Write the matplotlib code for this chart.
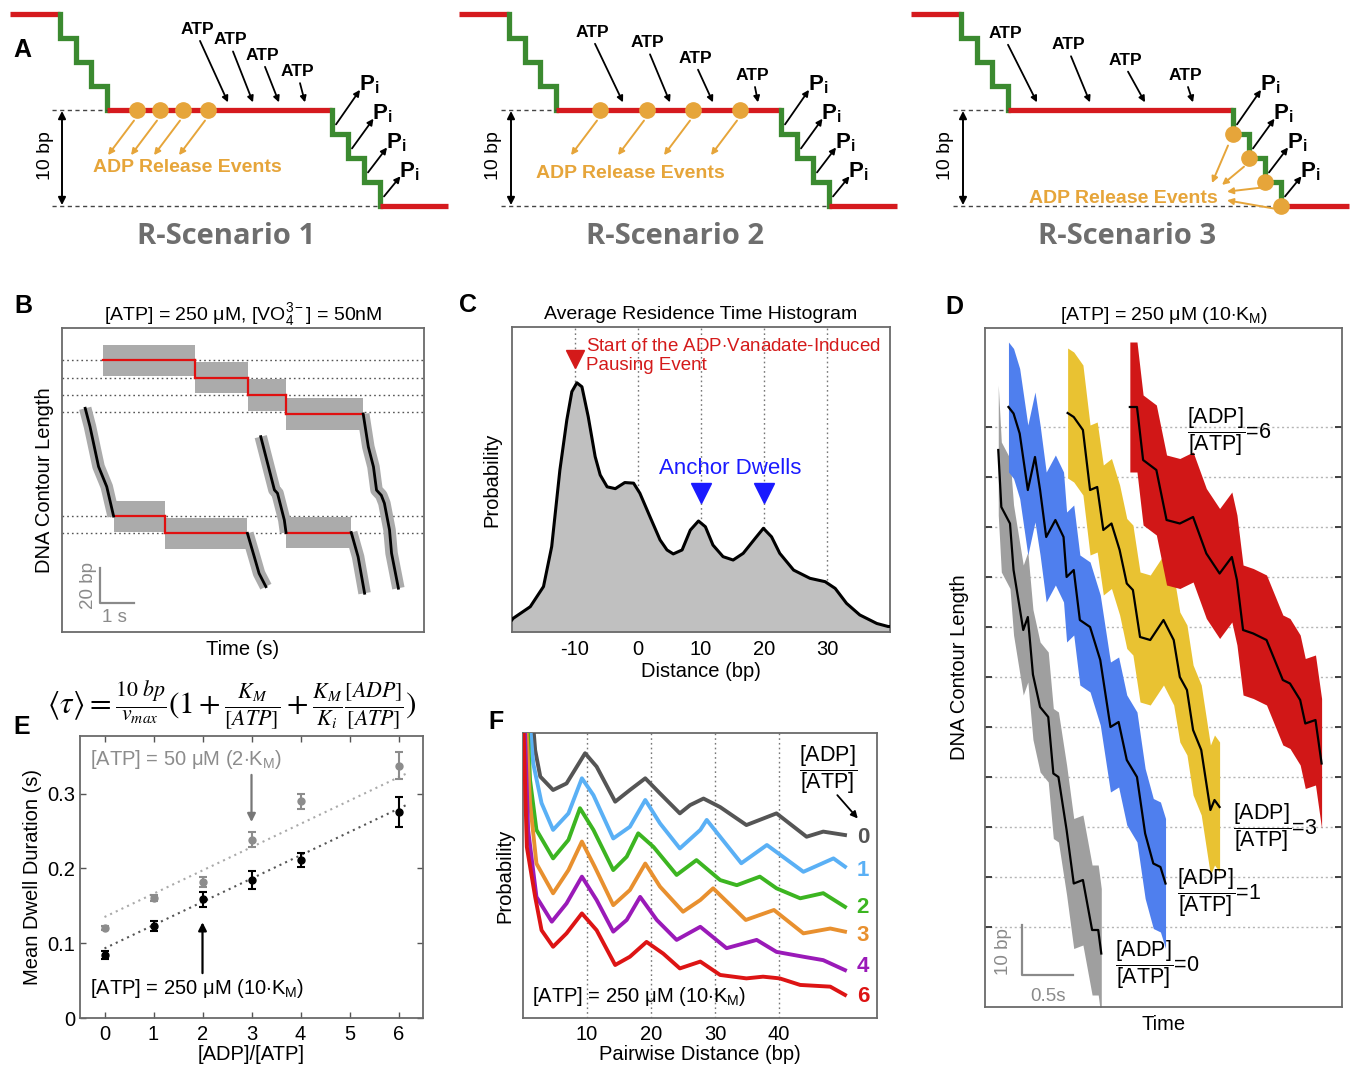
import matplotlib
matplotlib.use('Agg')
import matplotlib.pyplot as plt
import numpy as np

plt.rcParams['font.family'] = ['Liberation Sans', 'DejaVu Sans']
plt.rcParams['mathtext.fontset'] = 'custom'
plt.rcParams['mathtext.rm'] = 'Liberation Sans'
plt.rcParams['mathtext.it'] = 'Liberation Sans:italic'
plt.rcParams['mathtext.bf'] = 'Liberation Sans:bold'

# ---------------------------------------------------------------- data
# Panel A (schematic parameters)
scen_names = ['R-Scenario 1', 'R-Scenario 2', 'R-Scenario 3']
burst_steps = 4
step_bp = 2.5
dwell_bp = 10
atp_head_x = [[228, 253, 279, 305], [174, 221, 264, 309], [136, 189, 244, 292]]
atp_label_x = [[197, 230, 262, 297], [143, 198, 246, 303], [104, 167, 224, 284]]
atp_label_bp = [[-8.4, -7.3, -5.7, -4.0], [-8.1, -7.0, -5.4, -3.6], [-8.0, -6.8, -5.2, -3.6]]
adp_release_x = [[137, 160, 183, 208], [151, 198, 244, 291], None]
s3_adp_head_x = [311, 321, 326, 326]
s3_adp_head_bp = [7.6, 7.8, 8.5, 9.4]

# Panel B
B_grid_bp = [157, 147, 137, 127, 67, 57]
B_pause_t0 = [1.2, 3.88, 5.44, 6.56, 1.51, 3.03, 6.56]
B_pause_t1 = [3.88, 5.44, 6.56, 8.82, 3.03, 5.43, 8.47]
B_pause_bp = [157, 147, 137, 126, 67, 57, 57.5]
B_burst1_t = [8.82, 8.97, 9.12, 9.21, 9.35, 9.44, 9.59, 9.65, 9.85]
B_burst1_bp = [126, 107, 95.5, 82, 79, 74.4, 59, 45.5, 25.3]
B_burst2_t = [0.68, 0.82, 1.07, 1.31, 1.51]
B_burst2_bp = [129.3, 118.7, 95.6, 84, 67]
B_burst3_t = [5.43, 5.63, 5.77, 5.97]
B_burst3_bp = [57, 43.5, 33.9, 26.2]
B_burst4_t = [5.82, 6.02, 6.22, 6.31, 6.51, 6.56]
B_burst4_bp = [112.9, 97.5, 82.1, 80.2, 64.7, 57.5]
B_burst5_t = [8.47, 8.67, 8.86]
B_burst5_bp = [57.5, 43.5, 22.4]

# Panel C
C_x = [-20, -19.8, -17.1, -15.0, -13.7, -12.4, -11.3, -10.5, -9.7, -8.9, -7.9, -6.8, -6.0, -4.9,
       -3.6, -2.1, -0.7, 0.3, 1.9, 3.5, 4.6, 5.6, 7.0, 8.3, 9.6, 10.7, 11.9, 13.5, 15.1, 16.7,
       18.6, 19.9, 21.2, 22.5, 24.7, 27.3, 29.7, 31.3, 33.1, 35.2, 37.9, 39.7, 40]
C_y = [0.04, 0.045, 0.083, 0.149, 0.28, 0.531, 0.695, 0.788, 0.817, 0.804, 0.706, 0.575, 0.515,
       0.476, 0.47, 0.49, 0.488, 0.455, 0.378, 0.302, 0.269, 0.256, 0.269, 0.334, 0.364, 0.345,
       0.285, 0.247, 0.236, 0.258, 0.307, 0.34, 0.312, 0.258, 0.203, 0.176, 0.165, 0.143, 0.094,
       0.056, 0.028, 0.018, 0.018]
C_ticks = [-10, 0, 10, 20, 30]

# Panel D
D_ratio_labels = ['0', '1', '3', '6']
D0_t = [0.13, 0.16, 0.245, 0.28, 0.375, 0.42, 0.47, 0.54, 0.62, 0.67, 0.72, 0.80, 0.87, 0.96, 1.05, 1.11, 1.14]
D0_bp = [105.4, 94, 90.7, 81.4, 69.4, 72, 60.5, 54, 52, 40.7, 40, 29.4, 18.7, 19.4, 9.4, 9.4, 4.7]
D1_t = [0.23, 0.28, 0.34, 0.42, 0.49, 0.54, 0.60, 0.69, 0.77, 0.80, 0.87, 0.93, 1.03, 1.13, 1.23,
        1.31, 1.39, 1.49, 1.57, 1.65, 1.72, 1.77]
D1_bp = [114, 112.7, 108.7, 97.4, 104, 97.4, 88, 91.4, 88, 80, 81.4, 71.4, 70, 63.4, 50, 51, 43.4,
         40, 28.7, 22.7, 22, 18.7]
D3_t = [0.81, 0.87, 0.96, 1.03, 1.10, 1.16, 1.24, 1.32, 1.39, 1.45, 1.52, 1.62, 1.75, 1.85, 1.91,
        1.98, 2.04, 2.12, 2.21, 2.25, 2.30]
D3_bp = [112.8, 112, 109.4, 97.4, 98, 89.4, 90.7, 85.4, 78.7, 77.4, 68, 67.4, 71.4, 67.4, 60, 57.4,
         49.4, 45.4, 33.4, 35.4, 34]
D6_t = [1.42, 1.49, 1.55, 1.68, 1.78, 1.91, 2.04, 2.17, 2.30, 2.42, 2.47, 2.53, 2.63, 2.76, 2.92,
        2.99, 3.09, 3.14, 3.24, 3.30]
D6_bp = [114, 114, 103.4, 101.4, 91.4, 90.7, 92, 84.7, 80.7, 84, 79.4, 69.4, 68.7, 67.4, 59.4, 58.7,
         55.4, 50.7, 51.4, 42.7]
D_grid_bp = [10, 20, 30, 40, 50, 60, 70, 80, 90, 100, 110]

# Panel E
E_ratio = [0, 1, 2, 3, 4, 6]
E_tau_250 = [0.084, 0.123, 0.159, 0.184, 0.2115, 0.276]
E_err_250 = [0.005, 0.007, 0.010, 0.012, 0.009, 0.020]
E_tau_50 = [0.120, 0.160, 0.182, 0.238, 0.290, 0.337]
E_err_50 = [0.003, 0.004, 0.007, 0.010, 0.010, 0.018]
E_fit_x = [0, 6.2]
E_fit_250 = [0.093, 0.286]
E_fit_50 = [0.135, 0.328]

# Panel F
F_labels = ['0', '1', '2', '3', '4', '6']
F_colors = ['#555555', '#5ab0f5', '#3cb521', '#e8902f', '#9a1ab8', '#dd1414']
F_x0 = [1.4, 1.9, 2.7, 4.7, 6.8, 9.7, 11.5, 14.4, 16.7, 19.1, 21.4, 24.5, 26.1, 28.2, 30.8, 34.9,
        39.6, 44.3, 46.9, 50.3]
F_y0 = [1.08, 0.94, 0.847, 0.80, 0.823, 0.929, 0.882, 0.759, 0.80, 0.841, 0.788, 0.718, 0.747,
        0.77, 0.74, 0.677, 0.718, 0.636, 0.654, 0.642]
F_x1 = [0.9, 1.6, 2.9, 4.7, 7.1, 9.2, 11.0, 14.1, 16.7, 19.1, 21.4, 24.5, 27.7, 28.7, 34.1, 38.1,
        43.8, 48.5, 50.3]
F_y1 = [1.08, 0.893, 0.754, 0.66, 0.718, 0.841, 0.782, 0.630, 0.671, 0.765, 0.683, 0.595, 0.66,
        0.695, 0.543, 0.607, 0.513, 0.56, 0.531]
F_x2 = [0.6, 1.1, 2.1, 4.7, 7.1, 8.9, 11.0, 14.1, 16.2, 18.0, 20.4, 24.0, 27.1, 30.8, 33.4, 37.0,
        39.6, 43.3, 46.9, 50.3]
F_y2 = [1.08, 0.835, 0.66, 0.56, 0.625, 0.736, 0.66, 0.519, 0.566, 0.648, 0.60, 0.502, 0.554,
        0.484, 0.466, 0.496, 0.455, 0.42, 0.438, 0.39]
F_x3 = [0.4, 1.1, 2.1, 4.7, 7.1, 9.2, 11.2, 14.1, 16.7, 19.1, 21.4, 25.0, 27.7, 29.7, 34.8, 39.2,
        43.8, 48.0, 50.3]
F_y3 = [1.08, 0.754, 0.542, 0.4375, 0.519, 0.619, 0.531, 0.396, 0.449, 0.542, 0.461, 0.373, 0.414,
        0.455, 0.344, 0.379, 0.297, 0.314, 0.303]
F_x4 = [0.2, 0.8, 2.1, 4.5, 6.8, 9.2, 11.5, 14.1, 16.2, 18.3, 20.9, 24.0, 27.7, 31.8, 36.5, 39.6,
        43.8, 46.9, 50.3]
F_y4 = [1.08, 0.66, 0.425, 0.338, 0.402, 0.496, 0.414, 0.303, 0.344, 0.425, 0.344, 0.274, 0.32,
        0.245, 0.274, 0.232, 0.215, 0.203, 0.168]
F_x6 = [0, 0.6, 1.9, 2.9, 4.7, 6.8, 9.2, 11.5, 14.4, 16.7, 19.3, 21.9, 24.5, 27.7, 30.8, 34.9,
        37.5, 40.1, 43.3, 48.0, 50.3]
F_y6 = [1.08, 0.60, 0.425, 0.308, 0.25, 0.297, 0.367, 0.308, 0.186, 0.215, 0.267, 0.226, 0.174,
        0.198, 0.151, 0.139, 0.145, 0.139, 0.116, 0.11, 0.081]
F_ticks = [10, 20, 30, 40]

# ---------------------------------------------------------------- figure
W, H = 1355, 1072
fig = plt.figure(figsize=(W / 100, H / 100), dpi=100)


def px_axes(x0, y0, x1, y1):
    return fig.add_axes([x0 / W, 1 - y1 / H, (x1 - x0) / W, (y1 - y0) / H])


def fig_label(x, y, s, **kw):
    fig.text(x / W, 1 - y / H, s, **kw)


FRAME = '#6a6a6a'
RED = '#d51a1e'
GREEN = '#3b8a30'
ORANGE = '#e6a53a'

# ---------------------------------------------------------------- Panel A
top_x0, burst1_x0, tread1, dwell_end, tread2, final_x = 10, 60, 15.5, 332, 16, 448
scen_left = [0, 449, 901]
for si in range(3):
    ax = px_axes(scen_left[si], 0, scen_left[si] + 455, 255)
    ax.set_xlim(0, 455)
    ax.set_ylim(15.1, -11.46)
    ax.axis('off')
    xs, ys = [burst1_x0], [-dwell_bp]
    for k in range(burst_steps):
        xk = burst1_x0 + k * tread1
        lev = -dwell_bp + step_bp * (k + 1)
        xs.append(xk); ys.append(lev)
        if k < burst_steps - 1:
            xs.append(burst1_x0 + (k + 1) * tread1); ys.append(lev)
    dwell_x0 = xs[-1]
    xs2, ys2 = [dwell_end], [0]
    for k in range(burst_steps):
        xk = dwell_end + k * tread2
        lev = step_bp * (k + 1)
        xs2.append(xk); ys2.append(lev)
        if k < burst_steps - 1:
            xs2.append(dwell_end + (k + 1) * tread2); ys2.append(lev)
    burst2_end = xs2[-1]
    lw = 3.8
    ax.plot([top_x0, burst1_x0], [-dwell_bp, -dwell_bp], color=RED, lw=lw, solid_capstyle='butt')
    ax.plot(xs, ys, color=GREEN, lw=lw, solid_joinstyle='miter')
    ax.plot([dwell_x0, dwell_end], [0, 0], color=RED, lw=lw, solid_capstyle='butt')
    ax.plot(xs2, ys2, color=GREEN, lw=lw, solid_joinstyle='miter')
    ax.plot([burst2_end, final_x], [dwell_bp, dwell_bp], color=RED, lw=lw, solid_capstyle='butt')
    ax.plot([52, dwell_x0], [0, 0], color='#444444', lw=1, ls=(0, (3, 2.5)))
    ax.plot([52, burst2_end], [dwell_bp, dwell_bp], color='#444444', lw=1, ls=(0, (3, 2.5)))
    ax.annotate('', xy=(62, dwell_bp - 0.1), xytext=(62, 0.1),
                arrowprops=dict(arrowstyle='<|-|>', color='black', lw=1.4, mutation_scale=11,
                                shrinkA=0, shrinkB=0))
    ax.text(45, 4.7, '10 bp', rotation=90, ha='center', va='center', fontsize=14)
    for hx, lx, lb in zip(atp_head_x[si], atp_label_x[si], atp_label_bp[si]):
        ax.text(lx, lb, 'ATP', ha='center', va='center', fontsize=12.5, fontweight='bold')
        ax.annotate('', xy=(hx, -0.8), xytext=(lx + 3, lb + 1.2),
                    arrowprops=dict(arrowstyle='-|>', color='black', lw=1.3, mutation_scale=9,
                                    shrinkA=0, shrinkB=0))
    for k in range(burst_steps):
        dx = dwell_end + k * tread2
        tail = (dx + 4, step_bp * k + 1.5)
        head = (tail[0] + 24 - 2.5 * k, tail[1] - 3.6 + 0.5 * k)
        ax.annotate('', xy=head, xytext=tail,
                    arrowprops=dict(arrowstyle='-|>', color='black', lw=1.3, mutation_scale=9,
                                    shrinkA=0, shrinkB=0))
        ax.text(head[0] + 9, head[1] - 0.5, r'$\mathbf{P}_\mathbf{i}$', ha='center', va='center',
                fontsize=16)
    if adp_release_x[si] is not None:
        for ax_x in adp_release_x[si]:
            ax.plot(ax_x, 0, 'o', color=ORANGE, ms=11, zorder=5)
            ax.annotate('', xy=(ax_x - 29, 4.7), xytext=(ax_x - 3, 1.1),
                        arrowprops=dict(arrowstyle='-|>', color=ORANGE, lw=1.4, mutation_scale=9,
                                        shrinkA=0, shrinkB=0))
        tx, tb = (187, 6.0) if si == 0 else (181, 6.6)
        ax.text(tx, tb, 'ADP Release Events', color=ORANGE, fontsize=14, fontweight='bold',
                ha='center', va='center')
    else:
        for k in range(burst_steps):
            dxk = dwell_end + k * tread2
            lev = step_bp * (k + 1)
            ax.plot(dxk, lev, 'o', color=ORANGE, ms=11, zorder=5, clip_on=False)
            hx, hb = s3_adp_head_x[k], s3_adp_head_bp[k]
            ax.annotate('', xy=(hx, hb), xytext=(dxk - 5, lev + 1.2 - 0.3 * k),
                        arrowprops=dict(arrowstyle='-|>', color=ORANGE, lw=1.4, mutation_scale=9,
                                        shrinkA=0, shrinkB=0))
        ax.text(222, 9.2, 'ADP Release Events', color=ORANGE, fontsize=14, fontweight='bold',
                ha='center', va='center')
    ax.text(226, 13.2, scen_names[si], ha='center', va='center', fontsize=21, fontweight='bold',
            color='#6e6e6e', family=['Open Sans', 'DejaVu Sans'])
fig_label(22, 50, 'A', fontsize=18, fontweight='bold', ha='center', va='center')

# ---------------------------------------------------------------- Panel B
axB = px_axes(62, 328, 424, 632)
axB.set_xlim(0, 10.6)
axB.set_ylim(0, 175.7)
for g in B_grid_bp:
    axB.axhline(g, color='#555555', ls=(0, (1.2, 2.2)), lw=1, zorder=0)
noise = 9
for t0, t1, lev in zip(B_pause_t0, B_pause_t1, B_pause_bp):
    axB.fill_between([t0, t1], lev - noise, lev + noise, color='#ababab', lw=0, zorder=1)
bursts = [(B_burst1_t, B_burst1_bp), (B_burst2_t, B_burst2_bp), (B_burst3_t, B_burst3_bp),
          (B_burst4_t, B_burst4_bp), (B_burst5_t, B_burst5_bp)]
for bt, bb in bursts:
    axB.plot(bt, bb, color='#ababab', lw=9, zorder=1, solid_capstyle='butt')
for t0, t1, lev in zip(B_pause_t0, B_pause_t1, B_pause_bp):
    axB.plot([t0, t1], [lev, lev], color='#e01010', lw=1.6, zorder=3)
for i in range(3):
    axB.plot([B_pause_t1[i], B_pause_t1[i]], [B_pause_bp[i], B_pause_bp[i + 1]], color='#e01010',
             lw=1.6, zorder=3)
axB.plot([B_pause_t1[4], B_pause_t1[4]], [B_pause_bp[4], B_pause_bp[5]], color='#e01010', lw=1.6,
         zorder=3)
for bt, bb in bursts:
    axB.plot(bt, bb, color='black', lw=2, zorder=4)
axB.plot([1.12, 1.12, 2.12], [36.8, 16.8, 16.8], color='#8a8a8a', lw=1.6, zorder=5)
axB.text(0.78, 26.8, '20 bp', rotation=90, ha='center', va='center', fontsize=13.5, color='#8a8a8a')
axB.text(1.55, 8.5, '1 s', ha='center', va='center', fontsize=13.5, color='#8a8a8a')
axB.set_xticks([]); axB.set_yticks([])
for s in axB.spines.values():
    s.set_color(FRAME); s.set_linewidth(1.3)
axB.set_xlabel('Time (s)', fontsize=14.5, labelpad=6)
axB.set_ylabel('DNA Contour Length', fontsize=14.5, labelpad=6)
axB.set_title(r'[ATP] = 250 $\mathrm{\mu}$M, [VO$_4^{3-}$] = 50nM', fontsize=14, pad=6)
fig_label(23, 306, 'B', fontsize=18, fontweight='bold', ha='center', va='center')

# ---------------------------------------------------------------- Panel C
axC = px_axes(512, 327, 890, 632)
axC.set_xlim(-20, 40)
axC.set_ylim(0, 1)
for t in C_ticks:
    axC.axvline(t, color='#777777', ls=(0, (1.2, 2.2)), lw=1, zorder=0)
axC.fill_between(C_x, 0, C_y, color='#c0c0c0', lw=0, zorder=1)
axC.plot(C_x, C_y, color='black', lw=2.2, zorder=3, solid_joinstyle='round')
axC.set_xticks(C_ticks)
axC.set_xticklabels([str(t) for t in C_ticks])
axC.set_yticks([])
axC.tick_params(axis='x', length=0, labelsize=14.5, pad=6)
for s in axC.spines.values():
    s.set_color(FRAME); s.set_linewidth(1.3)
axC.set_xlabel('Distance (bp)', fontsize=14.5, labelpad=2)
axC.set_ylabel('Probability', fontsize=14.5, labelpad=8)
axC.set_title('Average Residence Time Histogram', fontsize=14, pad=6)
axC.plot([-10], [0.895], marker='v', color='#d41a1a', ms=13, zorder=5)
axC.text(-8.2, 0.905, 'Start of the ADP$\\cdot$Vanadate-Induced\nPausing Event', color='#d41a1a',
         fontsize=13.5, ha='left', va='center', linespacing=1.1)
axC.plot([10, 20], [0.456, 0.456], ls='none', marker='v', color='#1a1aff', ms=14, zorder=5)
axC.text(14.6, 0.535, 'Anchor Dwells', color='#1a1aff', fontsize=16, ha='center', va='center')
fig_label(468, 305, 'C', fontsize=18, fontweight='bold', ha='center', va='center')

# ---------------------------------------------------------------- Panel D
axD = px_axes(985, 328, 1342, 1007)
axD.set_xlim(0, 3.5)
axD.set_ylim(-6, 129.8)
for g in D_grid_bp:
    axD.axhline(g, color='#b5b5b5', ls=(0, (1.5, 2)), lw=1, zorder=0)
D_traces = [(D0_t, D0_bp, '#9f9f9f'), (D1_t, D1_bp, '#4f7fee'), (D3_t, D3_bp, '#e9c232'),
            (D6_t, D6_bp, '#d11717')]
band = 13
for tt, bb, col in D_traces:
    axD.fill_between(tt, np.array(bb) - band, np.array(bb) + band, color=col, lw=0, zorder=1)
for tt, bb, col in D_traces:
    axD.plot(tt, bb, color='black', lw=1.6, zorder=3)
axD.set_xticks([])
axD.set_yticks(D_grid_bp)
axD.set_yticklabels([])
axD.tick_params(axis='y', direction='in', length=5, width=1.3, color='#333333', left=True, right=True)
for s in axD.spines.values():
    s.set_color(FRAME); s.set_linewidth(1.3)
axD.plot([0.363, 0.363, 0.863], [10.4, 0.4, 0.4], color='#8a8a8a', lw=1.6, zorder=5)
axD.text(0.18, 5.0, '10 bp', rotation=90, ha='center', va='center', fontsize=13.5, color='#8a8a8a')
axD.text(0.62, -3.9, '0.5s', ha='center', va='center', fontsize=13.5, color='#8a8a8a')
frac = r'$\dfrac{[\mathrm{ADP}]}{[\mathrm{ATP}]}$'
D_lab_t = [1.27, 1.88, 2.43, 1.98]
D_lab_bp = [2.4, 16.8, 29.8, 109]
for lab, lt, lb in zip(D_ratio_labels, D_lab_t, D_lab_bp):
    axD.text(lt, lb, frac + '=' + lab, ha='left', va='center', fontsize=15.5, zorder=6)
axD.set_xlabel('Time', fontsize=14.5, labelpad=6)
axD.set_ylabel('DNA Contour Length', fontsize=14.5, labelpad=8)
axD.set_title(r'[ATP] = 250 $\mathrm{\mu}$M (10$\cdot$K$_\mathrm{M}$)', fontsize=14, pad=6)
fig_label(954, 307, 'D', fontsize=18, fontweight='bold', ha='center', va='center')

# ---------------------------------------------------------------- Panel E
axE = px_axes(80, 736, 423, 1018)
axE.set_xlim(-0.5, 6.5)
axE.set_ylim(0, 0.377)
axE.plot(E_fit_x, E_fit_50, color='#aaaaaa', ls=(0, (1, 2)), lw=1.5, zorder=1)
axE.plot(E_fit_x, E_fit_250, color='#555555', ls=(0, (1, 2)), lw=1.5, zorder=1)
axE.errorbar(E_ratio, E_tau_50, yerr=E_err_50, fmt='o', color='#8c8c8c', ms=5, capsize=3,
             elinewidth=1.5, capthick=1.5, zorder=3)
axE.errorbar(E_ratio, E_tau_250, yerr=E_err_250, fmt='o', color='black', ms=5, capsize=3,
             elinewidth=1.5, capthick=1.5, zorder=3)
axE.set_xticks([0, 1, 2, 3, 4, 5, 6])
axE.set_yticks([0, 0.1, 0.2, 0.3])
axE.set_yticklabels(['0', '0.1', '0.2', '0.3'])
axE.tick_params(direction='in', length=4, width=1, color='#555555', labelsize=14.5, top=True,
                right=True)
axE.tick_params(axis='x', pad=5)
for s in axE.spines.values():
    s.set_color(FRAME); s.set_linewidth(1.3)
axE.set_xlabel('[ADP]/[ATP]', fontsize=14.5, labelpad=1)
axE.set_ylabel('Mean Dwell Duration (s)', fontsize=14.5, labelpad=4)
axE.text(-0.3, 0.346, r'[ATP] = 50 $\mathrm{\mu}$M (2$\cdot$K$_\mathrm{M}$)', color='#8c8c8c',
         fontsize=14.5, ha='left', va='center')
axE.annotate('', xy=(3, 0.262), xytext=(3, 0.325),
             arrowprops=dict(arrowstyle='-|>', color='#777777', lw=1.6, mutation_scale=12,
                             shrinkA=0, shrinkB=0))
axE.text(-0.3, 0.04, r'[ATP] = 250 $\mathrm{\mu}$M (10$\cdot$K$_\mathrm{M}$)', color='black',
         fontsize=14.5, ha='left', va='center')
axE.annotate('', xy=(2, 0.128), xytext=(2, 0.06),
             arrowprops=dict(arrowstyle='-|>', color='black', lw=1.6, mutation_scale=12,
                             shrinkA=0, shrinkB=0))
fig_label(232, 706, r'$\langle\tau\rangle = \frac{10\ bp}{v_{max}}(1 + \frac{K_M}{[ATP]} + '
          r'\frac{K_M}{K_i}\frac{[ADP]}{[ATP]})$', fontsize=22.5, ha='center', va='center',
          math_fontfamily='stix')
fig_label(22, 727, 'E', fontsize=18, fontweight='bold', ha='center', va='center')

# ---------------------------------------------------------------- Panel F
axF = px_axes(523, 733, 877, 1018)
axF.set_xlim(0, 55.3)
axF.set_ylim(0, 1)
for t in F_ticks:
    axF.axvline(t, color='#777777', ls=(0, (1.2, 2.2)), lw=1, zorder=0)
F_series = [(F_x0, F_y0), (F_x1, F_y1), (F_x2, F_y2), (F_x3, F_y3), (F_x4, F_y4), (F_x6, F_y6)]
for (fx, fy), col in zip(F_series, F_colors):
    axF.plot(fx, fy, color=col, lw=2.8, zorder=3, solid_joinstyle='round')
F_lab_y = [0.635, 0.519, 0.389, 0.291, 0.179, 0.074]
for lab, col, ly in zip(F_labels, F_colors, F_lab_y):
    axF.text(53.1, ly, lab, color=col, fontsize=16, fontweight='bold', ha='center', va='center')
axF.text(47.7, 0.87, frac, ha='center', va='center', fontsize=15.5)
axF.annotate('', xy=(52.3, 0.70), xytext=(49.1, 0.782),
             arrowprops=dict(arrowstyle='-|>', color='black', lw=1.3, mutation_scale=10,
                             shrinkA=0, shrinkB=0))
axF.text(1.4, 0.074, r'[ATP] = 250 $\mathrm{\mu}$M (10$\cdot$K$_\mathrm{M}$)', fontsize=14.5,
         ha='left', va='center')
axF.set_xticks(F_ticks)
axF.set_yticks([])
axF.tick_params(axis='x', length=0, labelsize=14.5, pad=5)
for s in axF.spines.values():
    s.set_color(FRAME); s.set_linewidth(1.3)
axF.set_xlabel('Pairwise Distance (bp)', fontsize=14.5, labelpad=1)
axF.set_ylabel('Probability', fontsize=14.5, labelpad=6)
fig_label(496, 722, 'F', fontsize=18, fontweight='bold', ha='center', va='center')

fig.savefig('out.png', dpi=100)
